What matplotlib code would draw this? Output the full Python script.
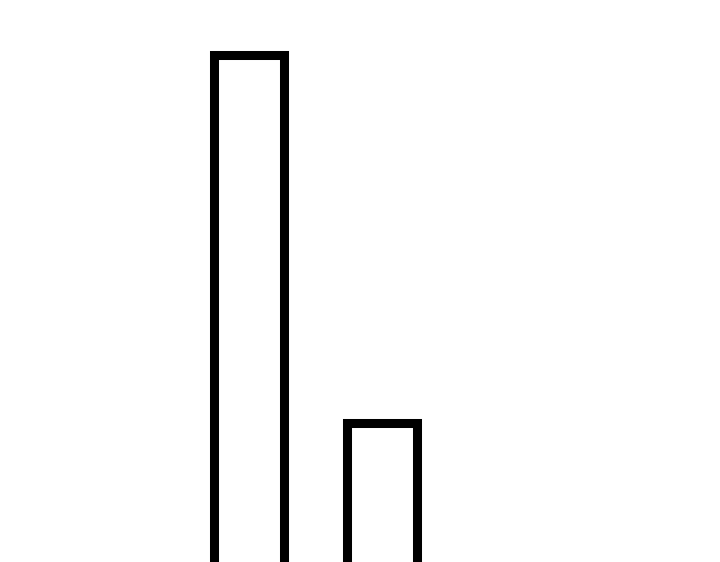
import matplotlib
matplotlib.use("Agg")
import matplotlib.pyplot as plt

categories = ["a", "b"]
values = [10, 3]

fig = plt.figure(figsize=(7.2, 5.62), dpi=100)
ax = fig.add_axes([0, 0, 1, 1])
ax.bar(range(len(categories)), values, width=0.52, align='center',
       facecolor='white', edgecolor='black', linewidth=6.5, joinstyle='miter')
ax.set_xlim(-1.872, 3.541)
ax.set_ylim(0.343, 11.058)
ax.axis('off')
fig.savefig("out.png", dpi=100, facecolor='white')
